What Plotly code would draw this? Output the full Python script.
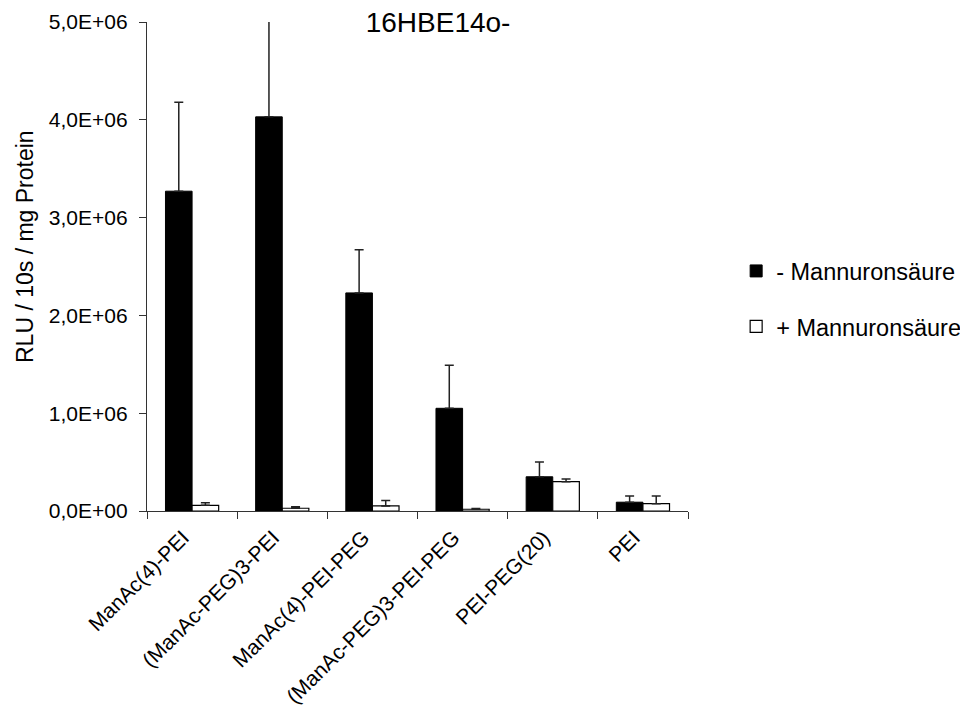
import plotly.graph_objects as go

categories = ["ManAc(4)-PEI", "(ManAc-PEG)3-PEI", "ManAc(4)-PEI-PEG",
              "(ManAc-PEG)3-PEI-PEG", "PEI-PEG(20)", "PEI"]
minus_vals = [3.27e6, 4.03e6, 2.23e6, 1.05e6, 0.35e6, 0.09e6]
minus_err = [0.91e6, 1.60e6, 0.44e6, 0.44e6, 0.15e6, 0.063e6]
plus_vals = [0.058e6, 0.028e6, 0.052e6, 0.018e6, 0.30e6, 0.075e6]
plus_err = [0.027e6, 0.015e6, 0.056e6, 0.008e6, 0.027e6, 0.078e6]
series_names = ["- Mannuronsäure", "+ Mannuronsäure"]
ytick_vals = [0, 1e6, 2e6, 3e6, 4e6, 5e6]
ytick_text = ["0,0E+00", "1,0E+06", "2,0E+06", "3,0E+06", "4,0E+06", "5,0E+06"]

FONT = "Liberation Sans, Arial, sans-serif"

fig = go.Figure()
fig.add_trace(go.Bar(
    x=categories, y=minus_vals, name=series_names[0], legendgroup="a",
    marker=dict(color="black", line=dict(color="black", width=1)),
    error_y=dict(type="data", array=minus_err, arrayminus=[0] * 6, symmetric=False,
                 color="#222", thickness=1.5, width=4.5),
))
fig.add_trace(go.Bar(
    x=categories, y=plus_vals, name=series_names[1], legendgroup="b",
    marker=dict(color="white", line=dict(color="black", width=1.2)),
    error_y=dict(type="data", array=plus_err, arrayminus=[0] * 6, symmetric=False,
                 color="#222", thickness=1.5, width=4.5),
))

fig.update_layout(
    width=968, height=711,
    margin=dict(l=139, r=288, t=14, b=208, autoexpand=False),
    paper_bgcolor="white", plot_bgcolor="white",
    font=dict(family=FONT, size=21, color="black"),
    barmode="group", bargap=0.41, bargroupgap=0,
    title=dict(text="16HBE14o-", font=dict(size=28, family=FONT, color="black"),
               xref="paper", x=0.538, xanchor="center",
               yref="container", y=1 - 14 / 711, yanchor="middle"),
    legend=dict(x=1.089, xanchor="left", y=0.5355, yanchor="top",
                font=dict(size=23.5, family=FONT), traceorder="grouped",
                tracegroupgap=22, bgcolor="rgba(0,0,0,0)"),
    showlegend=True,
)
fig.update_xaxes(
    showline=True, linecolor="#333", linewidth=1.2,
    ticks="outside", tickson="boundaries", ticklen=7, tickcolor="#333", tickwidth=1.2,
    tickangle=-45, tickfont=dict(size=21, family=FONT), automargin=False,
    ticklabelstandoff=5, ticklabelshift=-9,
    showgrid=False, zeroline=False,
)
fig.update_yaxes(
    range=[0, 5e6], tickvals=ytick_vals, ticktext=ytick_text,
    showline=True, linecolor="#333", linewidth=1.2,
    ticks="outside", ticklen=7, tickcolor="#333", tickwidth=1.2,
    tickfont=dict(size=21, family=FONT), automargin=False,
    ticklabelstandoff=7,
    showgrid=False, zeroline=False,
)
fig.add_annotation(
    text="RLU / 10s / mg Protein", textangle=-90, showarrow=False,
    xref="paper", yref="paper", x=(25 - 147) / 541, y=(511 - 247) / 489,
    xanchor="center", yanchor="middle", font=dict(size=23, family=FONT),
)

fig.write_html("out.html")
